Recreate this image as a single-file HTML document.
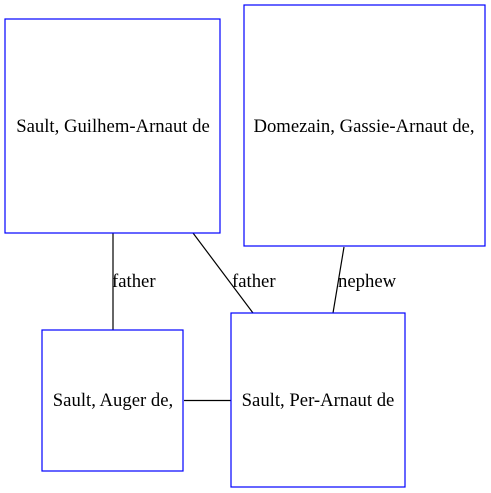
<!DOCTYPE html>
<html><head><style>body{margin:0;background:#fff}svg{display:block}text{font-family:"Liberation Serif",serif;font-size:18.7px;fill:#000}</style></head>
<body><svg width="491" height="493" xmlns="http://www.w3.org/2000/svg">
<g stroke="#000" stroke-width="1.2">
<line x1="113" y1="233" x2="113" y2="330"/>
<line x1="193" y1="233" x2="253" y2="313"/>
<line x1="344" y1="247" x2="333" y2="313"/>
<line x1="184" y1="400.5" x2="231" y2="400.5"/>
</g>
<g fill="#fff" stroke="#0000ff" stroke-width="1.2">
<rect x="5" y="19" width="215" height="214"/>
<rect x="244" y="5" width="241" height="241"/>
<rect x="42" y="330" width="141" height="141"/>
<rect x="231" y="313" width="174" height="174"/>
</g>
<g text-anchor="middle">
<text x="113" y="132">Sault, Guilhem-Arnaut de</text>
<text x="364" y="132">Domezain, Gassie-Arnaut de,</text>
<text x="113" y="406">Sault, Auger de,</text>
<text x="318" y="406">Sault, Per-Arnaut de</text>
</g>
<text x="112" y="287">father</text>
<text x="232" y="287">father</text>
<text x="338" y="287">nephew</text>
</svg></body></html>
